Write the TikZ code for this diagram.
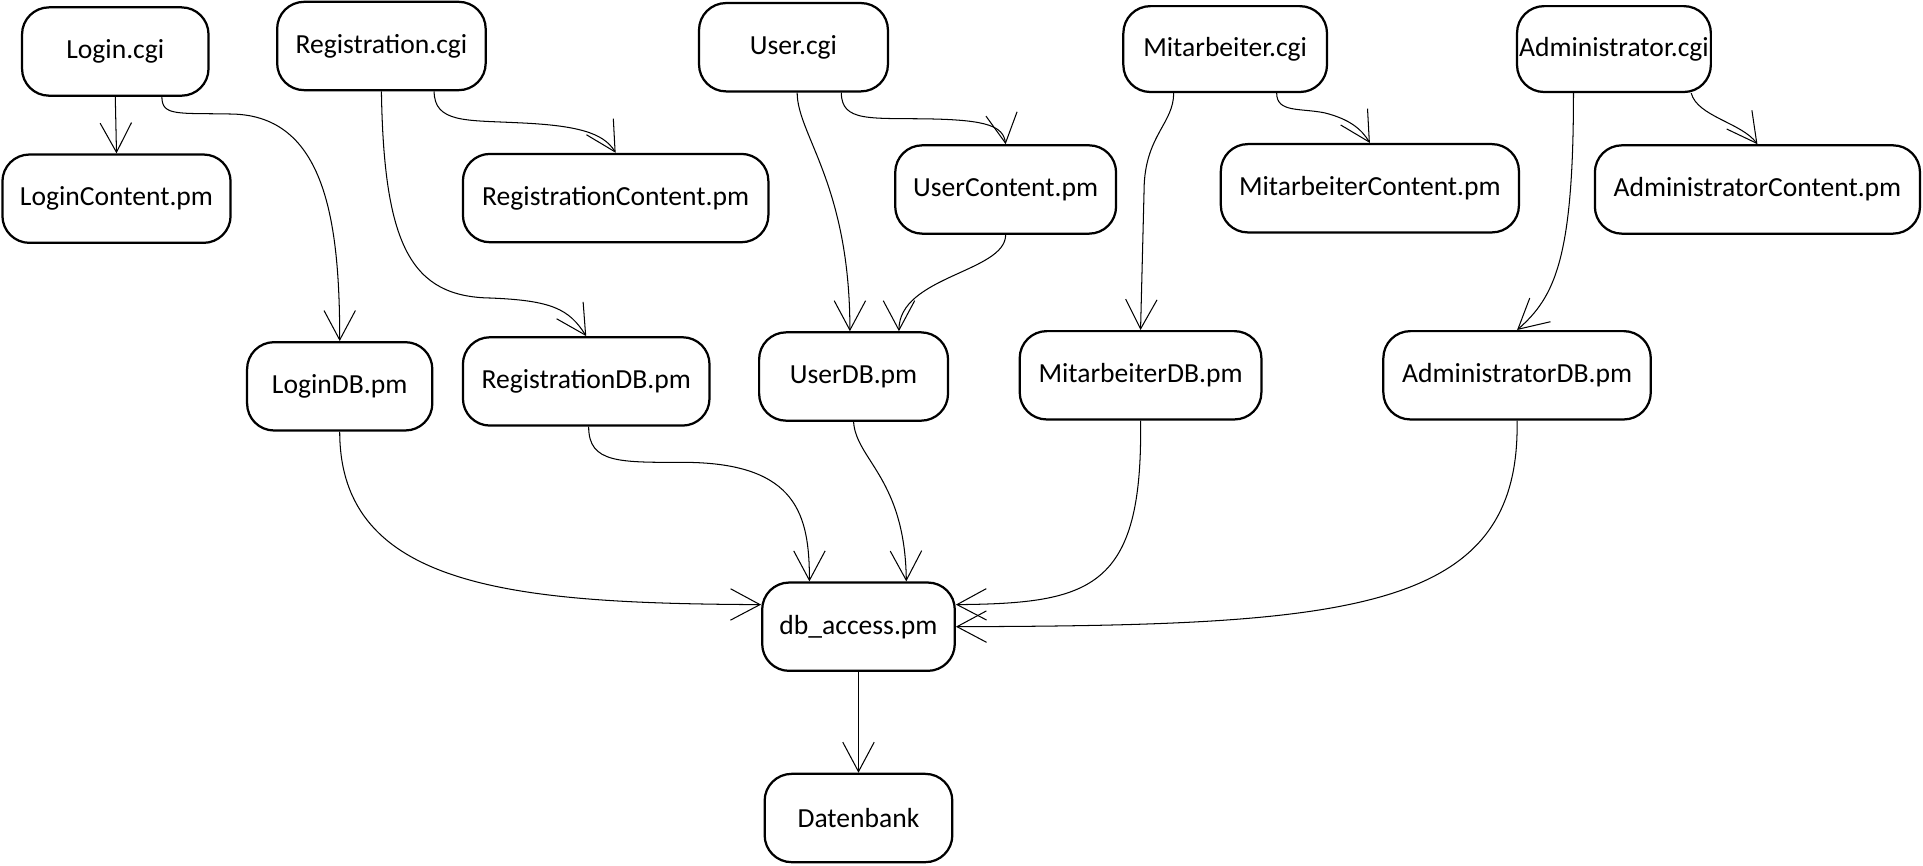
\documentclass[tikz,border=0pt]{standalone}
\usepackage{fontspec}
\setmainfont{Carlito}
\usetikzlibrary{arrows.meta,calc}

\begin{document}
\begin{tikzpicture}[->,>={Straight Barb[length=0.6cm,width=0.64cm]},
x=0.025cm,y=-0.025cm,line width=0.6pt,
font=\fontsize{16}{19}\selectfont]

\tikzstyle{box}=[rectangle, rounded corners=0.55cm, draw, line width=1.3pt,
text centered, inner sep=0pt, minimum height=1.8cm]

\useasboundingbox (0,0) rectangle (1568,706);

%cgi scripts
\node[box, minimum width=3.8cm] (logincgi) at (94,42) {Login.cgi};
\node[box, minimum width=4.25cm] (regcgi) at (311,37.5) {Registration.cgi};
\node[box, minimum width=3.85cm] (usercgi) at (647,38.5) {User.cgi};
\node[box, minimum width=4.15cm, minimum height=1.75cm] (mitcgi) at (999,40) {Mitarbeiter.cgi};
\node[box, minimum width=3.95cm, minimum height=1.75cm] (admcgi) at (1316,40) {Administrator.cgi};

%content modules
\node[box, minimum width=4.65cm] (logincontent) at (95,162) {LoginContent.pm};
\node[box, minimum width=6.225cm] (regcontent) at (502,161.5) {RegistrationContent.pm};
\node[box, minimum width=4.5cm] (usercontent) at (820,154.5) {UserContent.pm};
\node[box, minimum width=6.075cm] (mitcontent) at (1117,153.5) {MitarbeiterContent.pm};
\node[box, minimum width=6.625cm] (admcontent) at (1433,154.5) {AdministratorContent.pm};

%db modules
\node[box, minimum width=3.775cm] (logindb) at (277,315) {LoginDB.pm};
\node[box, minimum width=5.025cm] (regdb) at (478,311) {RegistrationDB.pm};
\node[box, minimum width=3.85cm] (userdb) at (696,307) {UserDB.pm};
\node[box, minimum width=4.925cm] (mitdb) at (930,306) {MitarbeiterDB.pm};
\node[box, minimum width=5.45cm] (admdb) at (1237,306) {AdministratorDB.pm};

\node[box, minimum width=3.925cm] (dbaccess) at (700,511) {db\_access.pm};
\node[box, minimum width=3.825cm] (datenbank) at (700,667) {Datenbank};

%cgi to content
\path[->] (logincgi.south) edge (logincontent.north);
\draw ($(regcgi.south)+(43,0)$) .. controls (354,100) and (380,98) .. (420,100)
  .. controls (470,102) and (492,108) .. (regcontent.north);
\draw ($(usercgi.south)+(39,0)$) .. controls (686,100) and (710,96) .. (760,97)
  .. controls (805,98) and (818,103) .. (usercontent.north);
\draw ($(mitcgi.south)+(42,0)$) .. controls (1041,92) and (1060,88) .. (1080,92)
  .. controls (1100,97) and (1110,105) .. (mitcontent.north);
\draw ($(admcgi.south)+(63,0)$) .. controls (1384,95) and (1420,100) .. (admcontent.north);

%cgi to db
\draw ($(logincgi.south)+(38,0)$) .. controls (132,95) and (145,92) .. (190,93)
  .. controls (265,95) and (277,180) .. (logindb.north);
\draw (regcgi.south) .. controls (313,200) and (335,242) .. (400,243)
  .. controls (450,245) and (464,252) .. (regdb.north);
\draw ($(usercgi.south)+(3,0)$) .. controls (650,110) and (693,150) .. ($(userdb.north)+(-3,0)$);
\draw (usercontent.south) .. controls (820,222) and (733,225) .. ($(userdb.north)+(37,0)$);
\draw ($(mitcgi.south)+(-42,0)$) .. controls (957,100) and (935,110) .. (933,150) -- (mitdb.north);
\draw ($(admcgi.south)+(-33,0)$) .. controls (1283,210) and (1268,242) .. (admdb.north);

%db to db_access
\draw (logindb.south) .. controls (277,480) and (420,492) .. ($(dbaccess.west)+(0,-18)$);
\draw ($(regdb.south)+(2,0)$) .. controls (480,378) and (505,377) .. (560,377)
  .. controls (650,378) and (660,420) .. ($(dbaccess.north)+(-40,0)$);
\draw (userdb.south) .. controls (698,375) and (738,390) .. ($(dbaccess.north)+(39,0)$);
\draw (mitdb.south) .. controls (932,480) and (890,492) .. ($(dbaccess.east)+(0,-18)$);
\draw (admdb.south) .. controls (1240,500) and (1100,510) .. (dbaccess.east);

\path[->] (dbaccess) edge (datenbank);

\end{tikzpicture}
\end{document}
